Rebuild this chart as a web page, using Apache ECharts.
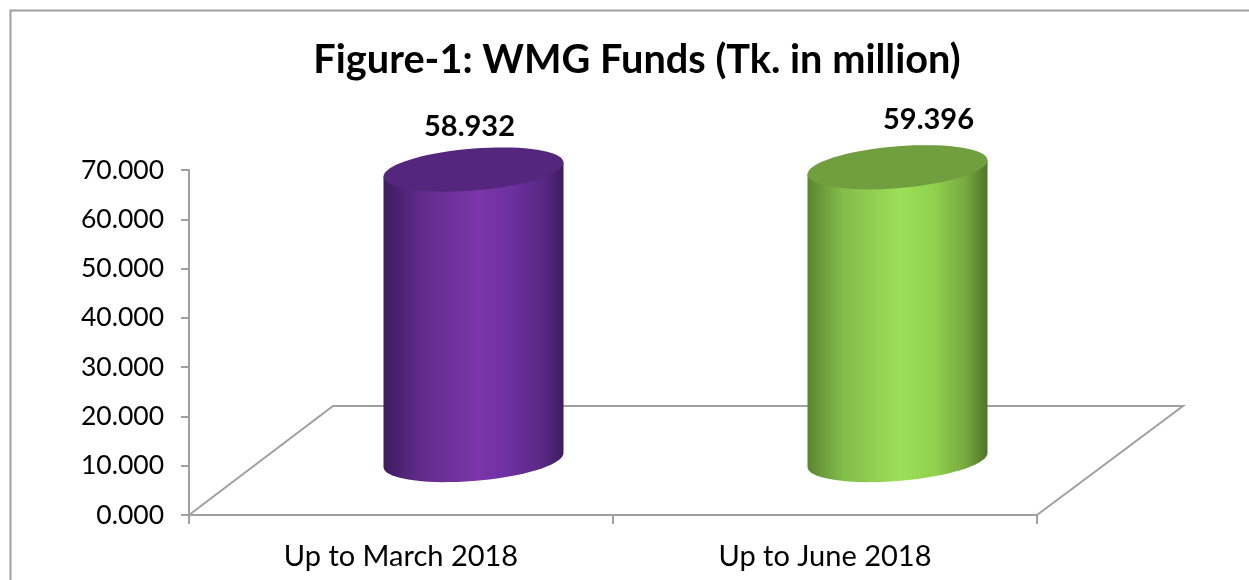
<!DOCTYPE html>
<html>
<head>
<meta charset="utf-8">
<script src="https://cdn.jsdelivr.net/npm/echarts@6/dist/echarts.min.js"></script>
<style>
html, body { margin: 0; padding: 0; background: #fff; }
#main { width: 1249px; height: 580px; }
</style>
</head>
<body>
<div id="main"></div>
<script>
var categories = ['Up to March 2018', 'Up to June 2018'];
var fundValues = [58.932, 59.396];
var valueLabels = ['58.932', '59.396'];
var titleText = 'Figure-1: WMG Funds (Tk. in million)';

// look of each cylinder
var sideStops = [
  ['#3f1b5f', '#5f2b8a', '#7c36a9', '#6e30a0', '#5a2885', '#3f1b5f'],
  ['#5a8530', '#84bd4b', '#9ddf58', '#90d24f', '#76a83f', '#4f7327']
];
var topColors = ['#55267d', '#719e3e'];
var labelShift = [[-4, -43], [31, -48]];

// fake 3d: floor depth in pixels, cylinder sits half way back
var floorDx = 145, floorDy = 109;
var radiusX = 90, radiusY = 21, skew = 7;
var lineColor = '#a0a0a0';

function ellipse(cx, cy) {
  var pts = [];
  for (var i = 0; i < 72; i++) {
    var t = i / 72 * Math.PI * 2;
    pts.push([cx + radiusX * Math.cos(t), cy - skew * Math.cos(t) + radiusY * Math.sin(t)]);
  }
  return pts;
}

function renderCylinder(params, api) {
  var i = api.value(0);
  var base = api.coord([i, 0]);
  var top = api.coord([i, api.value(1)]);
  var cx = base[0] + floorDx / 2;
  var by = base[1] - floorDy / 2 - 0.5;
  var ty = top[1] - floorDy / 2 - 0.5;
  var lower = ellipse(cx, by);
  var body = [];
  // front half of the base, then back up over the top edge
  lower.slice(0, 37).forEach(function (p) { body.push(p); });
  body.push([cx - radiusX, ty + skew], [cx + radiusX, ty - skew]);
  var s = sideStops[i];
  return {
    type: 'group',
    children: [
      {
        type: 'polygon',
        shape: { points: body },
        style: {
          fill: new echarts.graphic.LinearGradient(0, 0, 1, 0, [
            { offset: 0, color: s[0] },
            { offset: 0.2, color: s[1] },
            { offset: 0.52, color: s[2] },
            { offset: 0.7, color: s[3] },
            { offset: 0.88, color: s[4] },
            { offset: 1, color: s[5] }
          ])
        }
      },
      {
        type: 'polygon',
        shape: { points: ellipse(cx, ty) },
        style: { fill: topColors[i] }
      },
      {
        type: 'text',
        style: {
          x: cx + labelShift[i][0],
          y: ty + labelShift[i][1],
          text: valueLabels[i],
          align: 'center',
          verticalAlign: 'middle',
          fill: '#000',
          font: 'bold 29px Lato'
        }
      }
    ]
  };
}

function renderFloor(params, api) {
  var band = api.size([1, 0])[0];
  var a = api.coord([0, 0]);
  var b = api.coord([1, 0]);
  a = [a[0] - band / 2, a[1]];
  b = [b[0] + band / 2, b[1]];
  return {
    type: 'polyline',
    shape: {
      points: [
        a,
        [a[0] + floorDx - 1, a[1] - floorDy],
        [b[0] + floorDx + 1, b[1] - floorDy],
        b
      ]
    },
    style: { fill: 'none', stroke: lineColor, lineWidth: 2 }
  };
}

var chart = echarts.init(document.getElementById('main'), null, { renderer: 'canvas' });
chart.setOption({
  animation: false,
  backgroundColor: '#fff',
  title: {
    text: titleText,
    left: 632,
    top: 55,
    textAlign: 'center',
    textVerticalAlign: 'middle',
    textStyle: { fontFamily: 'Lato', fontWeight: 'bold', fontSize: 39.7, color: '#000' }
  },
  graphic: [{
    type: 'polyline',
    shape: { points: [[10.5, 580], [10.5, 10.5], [1249, 10.5]] },
    style: { fill: 'none', stroke: lineColor, lineWidth: 2 },
    z: 0
  }],
  grid: { left: 189, right: 212, top: 170, bottom: 65 },
  xAxis: {
    type: 'category',
    data: categories,
    axisLine: { lineStyle: { color: lineColor, width: 2 } },
    axisTick: { show: true, alignWithLabel: false, length: 9, lineStyle: { color: lineColor, width: 2 } },
    axisLabel: { fontFamily: 'Lato', fontSize: 29, color: '#000', margin: 27 }
  },
  yAxis: {
    type: 'value',
    min: 0,
    max: 70,
    interval: 10,
    splitLine: { show: false },
    axisLine: { show: true, lineStyle: { color: lineColor, width: 2 } },
    axisTick: { show: true, length: 8, lineStyle: { color: lineColor, width: 2 } },
    axisLabel: {
      fontFamily: 'Lato',
      fontSize: 26.5,
      color: '#000',
      margin: 25,
      formatter: function (v) { return v.toFixed(3); }
    }
  },
  series: [
    {
      type: 'custom',
      renderItem: renderFloor,
      data: [[0, 0]],
      z: 1,
      silent: true
    },
    {
      type: 'custom',
      renderItem: renderCylinder,
      data: fundValues.map(function (v, i) { return [i, v]; }),
      encode: { x: 0, y: 1 },
      z: 2
    }
  ]
});
</script>
</body>
</html>
